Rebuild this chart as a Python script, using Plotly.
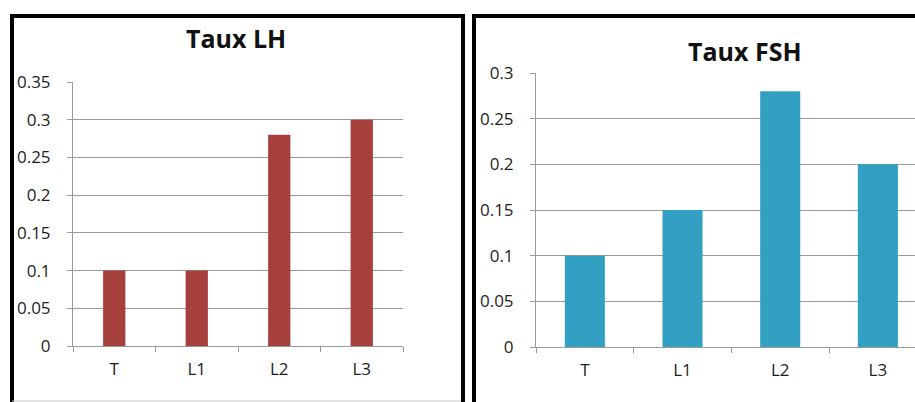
import plotly.graph_objects as go

# Hormone levels per group
categories = ["T", "L1", "L2", "L3"]
lh_values = [0.10, 0.10, 0.28, 0.30]
fsh_values = [0.10, 0.15, 0.28, 0.20]
lh_ticks = [0, 0.05, 0.1, 0.15, 0.2, 0.25, 0.3, 0.35]
fsh_ticks = [0, 0.05, 0.1, 0.15, 0.2, 0.25, 0.3]

W, H = 915, 402
FONT = "Open Sans"
GRID = "#9a9a9a"
TEXT = "#1e1e1e"


def px(x):
    return x / W


def py(y):
    return (H - y) / H


def frame_line(x0, y0, x1, y1, color="black", width=4):
    return dict(type="line", xref="paper", yref="paper",
                x0=px(x0), y0=py(y0), x1=px(x1), y1=py(y1),
                line=dict(color=color, width=width))


fig = go.Figure()

fig.add_trace(go.Bar(
    x=categories, y=lh_values, width=0.27,
    marker=dict(color="#a6403d", line=dict(width=0)),
    xaxis="x", yaxis="y", showlegend=False,
))
fig.add_trace(go.Bar(
    x=categories, y=fsh_values, width=0.41,
    marker=dict(color="#31a0c3", line=dict(width=0)),
    xaxis="x2", yaxis="y2", showlegend=False,
))

xcommon = dict(
    type="category", showgrid=False, showline=True, linecolor=GRID, linewidth=1,
    ticks="outside", tickson="boundaries", ticklen=5, tickcolor=GRID,
    tickfont=dict(family=FONT, size=17, color=TEXT), ticklabelstandoff=8,
    zeroline=False, fixedrange=True, automargin=False,
)
ycommon = dict(
    showgrid=True, gridcolor=GRID, gridwidth=1, showline=True, linecolor=GRID,
    linewidth=1, ticks="outside", ticklen=5, tickcolor=GRID,
    tickfont=dict(family=FONT, size=17, color=TEXT), ticklabelstandoff=13,
    zeroline=False, fixedrange=True, automargin=False,
)

fig.update_layout(
    template="none",
    width=W, height=H, margin=dict(l=0, r=0, t=0, b=0, pad=0, autoexpand=False),
    paper_bgcolor="white", plot_bgcolor="white",
    barmode="group", showlegend=False,
    xaxis=dict(xcommon, domain=[px(73), px(403)], range=[-0.5, 3.5], anchor="y"),
    yaxis=dict(ycommon, domain=[py(346), py(82)], range=[0, 0.35],
               tickvals=lh_ticks, ticktext=[f"{v:g}" for v in lh_ticks], anchor="x"),
    xaxis2=dict(xcommon, domain=[px(536), 1], range=[-0.5, 3.38], anchor="y2"),
    yaxis2=dict(ycommon, domain=[py(347), py(73)], range=[0, 0.3],
                tickvals=fsh_ticks, ticktext=[f"{v:g}" for v in fsh_ticks], anchor="x2"),
    annotations=[
        dict(text="<b>Taux LH</b>", x=px(236), y=py(38), xref="paper", yref="paper",
             xanchor="center", yanchor="middle", showarrow=False,
             font=dict(family=FONT, size=25, color="#111")),
        dict(text="<b>Taux FSH</b>", x=px(745), y=py(51), xref="paper", yref="paper",
             xanchor="center", yanchor="middle", showarrow=False,
             font=dict(family=FONT, size=25, color="#111")),
    ],
    shapes=[
        # left chart frame (open at the bottom, thin grey base)
        frame_line(12, 402, 12, 14),
        frame_line(10, 16, 465, 16),
        frame_line(463, 14, 463, 402),
        frame_line(12, 401, 461, 401, color="#c8c8c8", width=1),
        # right chart frame (runs off the page)
        frame_line(474, 402, 474, 14),
        frame_line(472, 16, 915, 16),
    ],
)

fig.write_html("out.html")
